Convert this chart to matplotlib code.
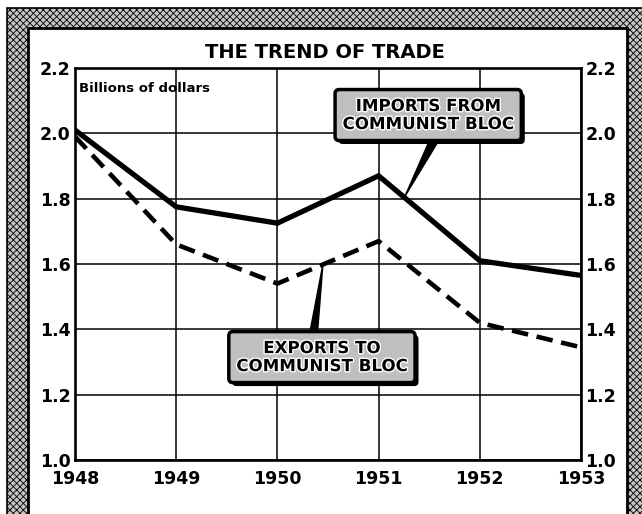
import matplotlib
matplotlib.use('Agg')
import matplotlib.pyplot as plt
import matplotlib.patheffects as pe
from matplotlib.patches import Rectangle

# Trade with the communist bloc, billions of dollars
years = [1948, 1949, 1950, 1951, 1952, 1953]
imports = [2.01, 1.775, 1.725, 1.87, 1.61, 1.565]
exports = [1.99, 1.66, 1.54, 1.67, 1.42, 1.345]
yticks = [1.0, 1.2, 1.4, 1.6, 1.8, 2.0, 2.2]

title = 'THE TREND OF TRADE'
unit_label = 'Billions of dollars'
imports_label = 'IMPORTS FROM\nCOMMUNIST BLOC'
exports_label = 'EXPORTS TO\nCOMMUNIST BLOC'

plt.rcParams['hatch.color'] = '#808080'
plt.rcParams['hatch.linewidth'] = 0.6
narrow = ['DejaVu Sans Condensed', 'Liberation Sans Narrow', 'DejaVu Sans']
W, H = 642, 514

fig = plt.figure(figsize=(W / 100, H / 100), dpi=100)

# halftone frame around the clipping
def px_rect(x0, y0, x1, y1, **kw):
    r = Rectangle((x0 / W, 1 - y1 / H), (x1 - x0) / W, (y1 - y0) / H,
                  transform=fig.transFigure, **kw)
    fig.add_artist(r)
    return r

px_rect(7, 8, 660, 540, facecolor='#c4c4c4', edgecolor='black', lw=1.2,
        hatch='xxxxx', zorder=-3)
px_rect(28, 28, 627, 540, facecolor='white', edgecolor='black', lw=2.0, zorder=-2)

ax = fig.add_axes([75 / W, 1 - 460 / H, 506 / W, 392 / H])
ax.set_facecolor('white')

ax.plot(years, imports, color='black', lw=3.8, solid_joinstyle='miter', zorder=3)
ax.plot(years, exports, color='black', lw=3.3, dashes=(3.6, 1.9),
        dash_capstyle='butt', zorder=3)

ax.set_xlim(years[0], years[-1])
ax.set_ylim(yticks[0], yticks[-1])
ax.set_xticks(years)
ax.set_xticklabels([str(y) for y in years], family=narrow, fontweight='bold', fontsize=12.5)
ax.set_yticks(yticks)
ax.set_yticklabels(['%.1f' % v for v in yticks], family=narrow, fontweight='bold', fontsize=12.5)
ax.tick_params(axis='both', length=0)
ax.tick_params(axis='y', labelright=True, pad=3)
ax.tick_params(axis='x', pad=7)
ax.grid(True, color='black', lw=1.1, zorder=1)
ax.set_axisbelow(True)
for s in ax.spines.values():
    s.set_linewidth(1.9)

fig.text(325 / W, 1 - 52 / H, title, ha='center', va='center',
         fontsize=14, fontweight='bold')
ax.text(0.008, 0.965, unit_label, transform=ax.transAxes, ha='left', va='top',
        fontsize=9.5, fontweight='bold', family=narrow)

box_style = dict(boxstyle='round,pad=0.45,rounding_size=0.25', fc='#bfbfbf',
                 ec='black', lw=2.5)
shadow = [pe.withSimplePatchShadow(offset=(2.5, -2.5), shadow_rgbFace='black', alpha=1)]
halo = [pe.withStroke(linewidth=2, foreground='white')]

# pointers
ax.annotate('', xy=(1951.26, 1.807), xytext=(1951.55, 1.98),
            arrowprops=dict(arrowstyle='wedge,tail_width=0.6', fc='black', ec='black',
                            mutation_scale=10, shrinkA=0, shrinkB=0), zorder=4)
ax.annotate('', xy=(1950.45, 1.60), xytext=(1950.35, 1.37),
            arrowprops=dict(arrowstyle='wedge,tail_width=0.6', fc='black', ec='black',
                            mutation_scale=10, shrinkA=0, shrinkB=0), zorder=4)

t1 = ax.text(1951.49, 2.056, imports_label, ha='center', va='center', fontsize=12,
             fontweight='bold', linespacing=1.0, bbox=box_style, zorder=5)
t2 = ax.text(1950.44, 1.315, exports_label, ha='center', va='center', fontsize=12,
             fontweight='bold', linespacing=1.0, bbox=box_style, zorder=5)
for t in (t1, t2):
    t.set_path_effects(halo)
    t.get_bbox_patch().set_path_effects(shadow)

fig.savefig('out.png', dpi=100)
